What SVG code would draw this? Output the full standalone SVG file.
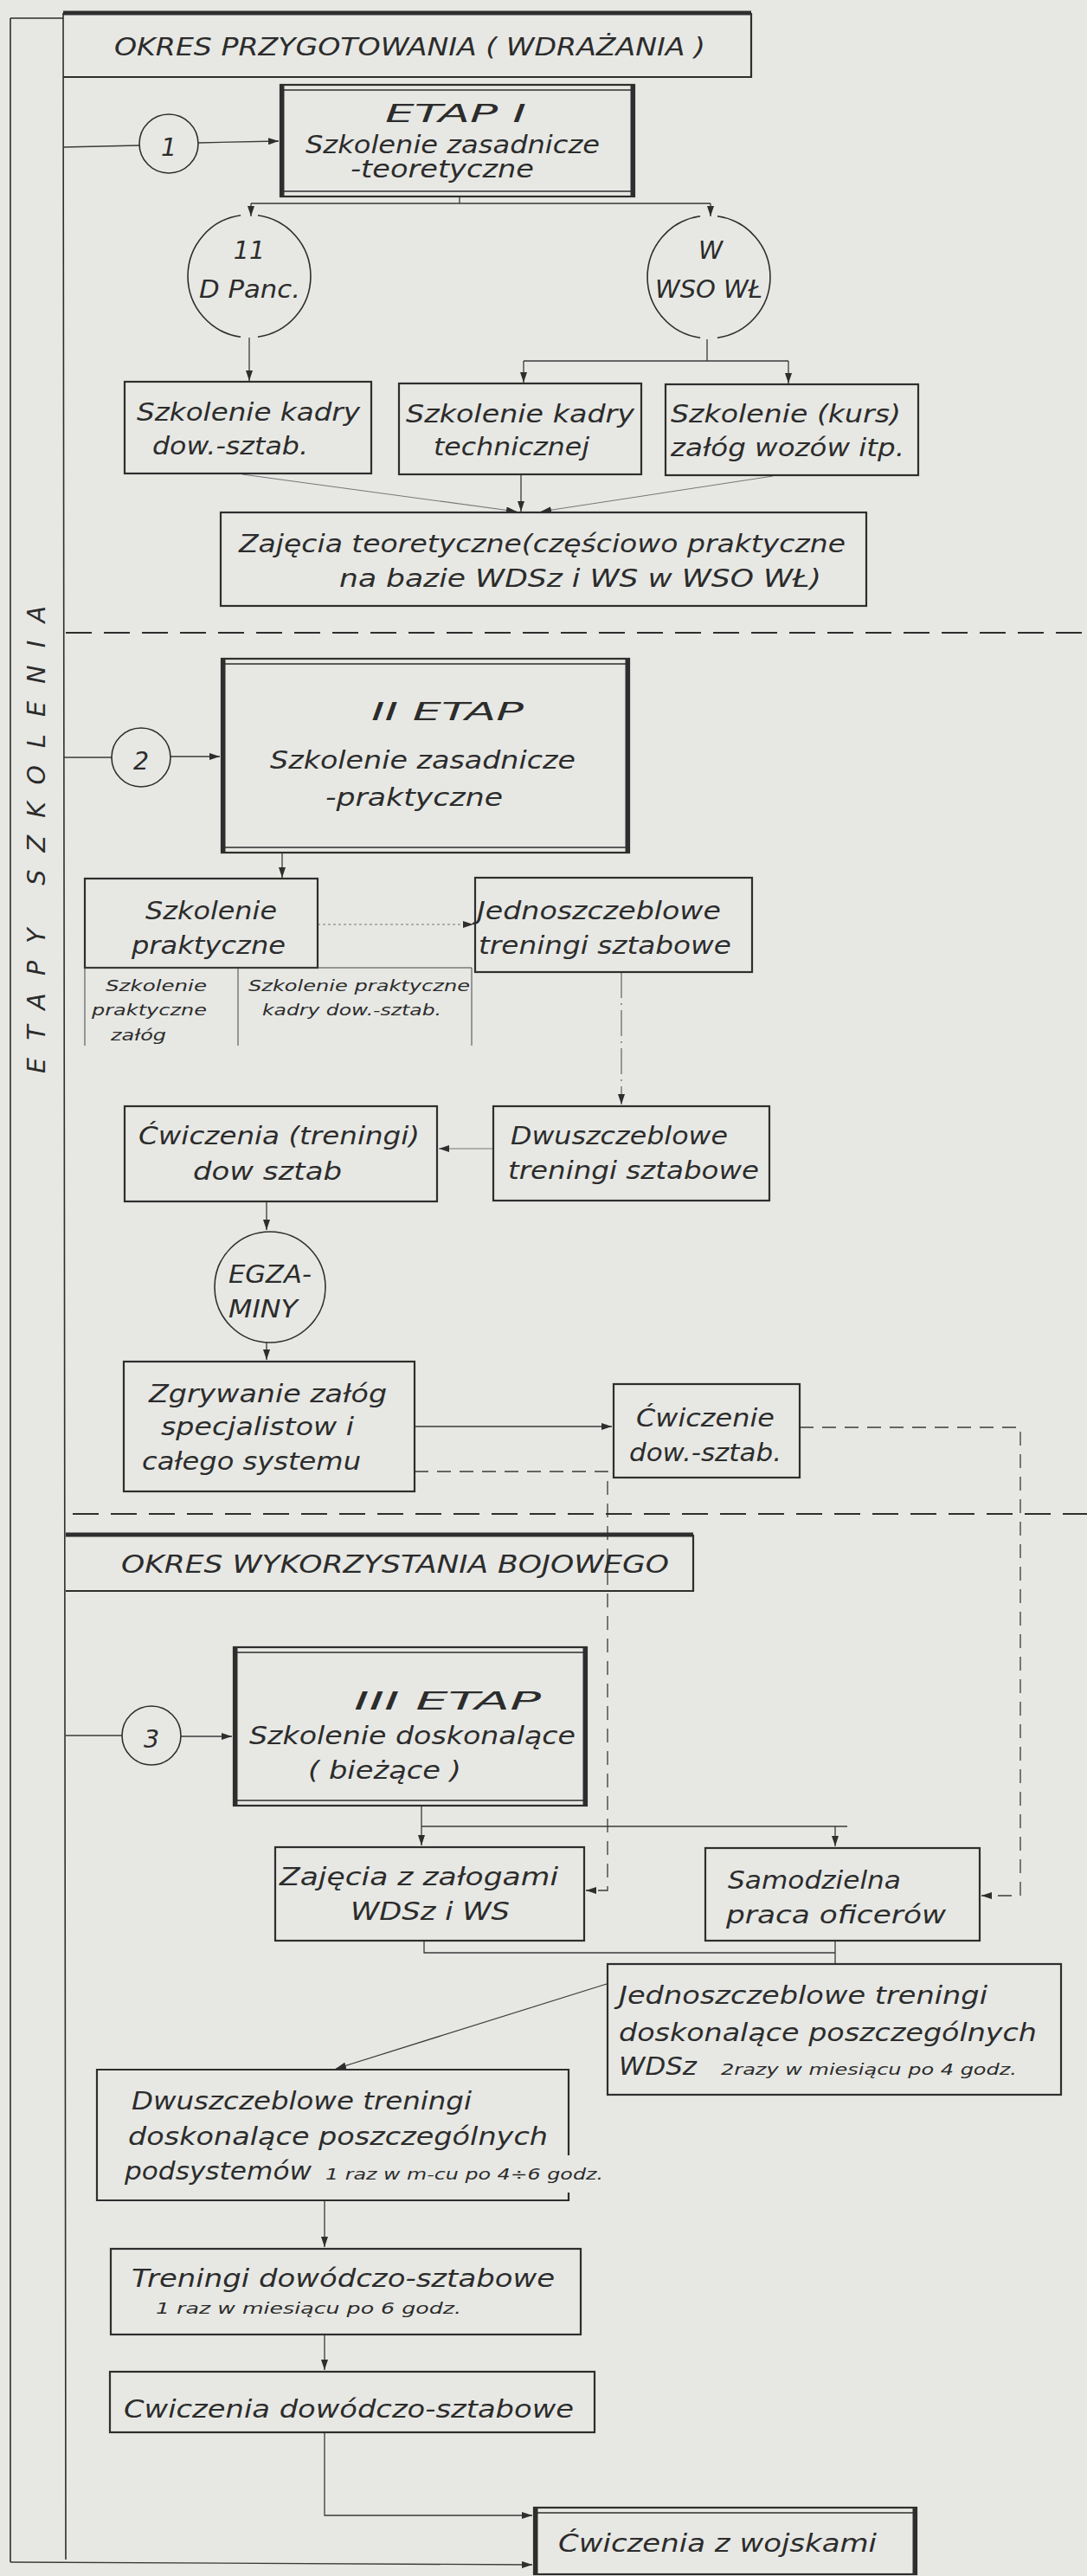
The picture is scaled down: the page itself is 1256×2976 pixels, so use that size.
<svg xmlns="http://www.w3.org/2000/svg" width="1256" height="2976" viewBox="0 0 1256 2976">
<defs>
<style>
.bg{fill:#e7e8e4}
.frame{stroke:#2e2e2e;stroke-width:1.6;fill:none}
.box{fill:none;stroke:#2e2e2e;stroke-width:2.2}
.thick{stroke:#2e2e2e;stroke-width:5;fill:none}
.thin{stroke:#2e2e2e;stroke-width:1.6;fill:none}
.sub{stroke:#444;stroke-width:1;fill:none}
.conn{stroke:#3a3a3a;stroke-width:1.3;fill:none}
.faint{stroke:#777;stroke-width:1.1;fill:none}
.dotted{stroke:#777;stroke-width:1.1;fill:none;stroke-dasharray:3 3}
.dashdot{stroke:#555;stroke-width:1.1;fill:none;stroke-dasharray:30 6 2 6}
.dashc{stroke:#3a3a3a;stroke-width:1.3;fill:none;stroke-dasharray:16 10}
.sep{stroke:#2e2e2e;stroke-width:2.2;fill:none;stroke-dasharray:30 14}
.t{font-family:'DejaVu Sans','Liberation Sans',sans-serif;font-style:italic;fill:#2c2c2c;font-size:28.5px}
.s{font-size:18px}
.h{font-size:28px}
.m{text-anchor:middle}
</style>
<marker id="ah" viewBox="0 0 12 8" refX="12" refY="4" markerWidth="12" markerHeight="8" orient="auto" markerUnits="userSpaceOnUse">
<path d="M0,0 L12,4 L0,8 z" fill="#2e2e2e"/>
</marker>
</defs>
<rect class="bg" x="0" y="0" width="1256" height="2976"/>

<g id="frame">
<path class="frame" d="M12,21 H73 M12,21 V2960 M73,15 L76,2957"/>
<text class="t" font-size="28" transform="translate(52,1240) rotate(-90)" textLength="540" lengthAdjust="spacing">ETAPY SZKOLENIA</text>
</g>

<g id="connectors">
<path class="conn" d="M73,170 L161,168"/>
<path class="conn" d="M229,165 L322,163" marker-end="url(#ah)"/>
<path class="conn" d="M531,227 V235 M290,235 H821"/>
<path class="conn" d="M290,235 V250" marker-end="url(#ah)"/>
<path class="conn" d="M821,235 V250" marker-end="url(#ah)"/>
<path class="conn" d="M288,390 V440" marker-end="url(#ah)"/>
<path class="conn" d="M817,392 V417 M605,417 H911"/>
<path class="conn" d="M605,417 V442" marker-end="url(#ah)"/>
<path class="conn" d="M911,417 V443" marker-end="url(#ah)"/>
<path class="faint" d="M280,548 L597,591" marker-end="url(#ah)"/>
<path class="conn" d="M602,549 V591" marker-end="url(#ah)"/>
<path class="faint" d="M893,550 L625,591" marker-end="url(#ah)"/>
<path class="conn" d="M74,875 H129"/>
<path class="conn" d="M197,874 H254" marker-end="url(#ah)"/>
<path class="conn" d="M326,985 V1014" marker-end="url(#ah)"/>
<path class="dotted" d="M367,1068 H547" marker-end="url(#ah)"/>
<path class="dashdot" d="M718,1123 V1276" marker-end="url(#ah)"/>
<path class="faint" d="M570,1327 H507" marker-end="url(#ah)"/>
<path class="conn" d="M308,1388 V1421" marker-end="url(#ah)"/>
<path class="conn" d="M308,1551 V1571" marker-end="url(#ah)"/>
<path class="conn" d="M479,1648 H707" marker-end="url(#ah)"/>
<path class="dashc" d="M924,1649 H1179 V2190 H1134" marker-end="url(#ah)"/>
<path class="dashc" d="M479,1700 H702 V2184 H677" marker-end="url(#ah)"/>
<path class="conn" d="M76,2005 H141"/>
<path class="conn" d="M209,2006 H268" marker-end="url(#ah)"/>
<path class="conn" d="M487,2086 V2132" marker-end="url(#ah)"/>
<path class="conn" d="M487,2110 H979"/>
<path class="conn" d="M965,2110 V2133" marker-end="url(#ah)"/>
<path class="conn" d="M490,2242 V2256 H965 M965,2242 V2269"/>
<path class="conn" d="M701,2292 L388,2390" marker-end="url(#ah)"/>
<path class="conn" d="M375,2542 V2596" marker-end="url(#ah)"/>
<path class="conn" d="M375,2697 V2738" marker-end="url(#ah)"/>
<path class="conn" d="M375,2810 V2906 H615" marker-end="url(#ah)"/>
<path class="conn" d="M12,2960 L615,2963" marker-end="url(#ah)"/>
<path class="sep" d="M76,731 H1256"/>
<path class="sep" d="M84,1749 H1256"/>
</g>

<g id="header1">
<path class="thick" d="M73,15 H868"/>
<path class="box" d="M868,15 V89 H73"/>
<text class="t h" x="132" y="64" textLength="683" lengthAdjust="spacingAndGlyphs">OKRES  PRZYGOTOWANIA ( WDRAŻANIA )</text>
</g>

<g id="etap1">
<rect class="box" x="324" y="98" width="409" height="129"/>
<path class="thick" d="M326,98 V227 M731,98 V227"/>
<path class="thin" d="M324,104 H733 M324,221 H733"/>
<text class="t" font-size="36" x="445" y="141" textLength="163" lengthAdjust="spacingAndGlyphs">ETAP I</text>
<text class="t" x="353" y="177" textLength="340" lengthAdjust="spacingAndGlyphs">Szkolenie zasadnicze</text>
<text class="t" x="405" y="205" textLength="212" lengthAdjust="spacingAndGlyphs">-teoretyczne</text>
</g>

<g id="c1">
<circle class="thin" cx="195" cy="166" r="34"/>
<text class="t m" font-size="40" x="195" y="180">1</text>
</g>

<g id="c11dpanc">
<path class="thin" d="M297.9,248.7 A71,71 0 0 1 297.9,389.3 M278.1,389.3 A71,71 0 0 1 278.1,248.7"/>
<text class="t m" x="288" y="299">11</text>
<text class="t" x="230" y="344" textLength="117" lengthAdjust="spacingAndGlyphs">D Panc.</text>
</g>

<g id="cwsowl">
<path class="thin" d="M828.9,249.7 A71,71 0 0 1 828.9,390.3 M809.1,390.3 A71,71 0 0 1 809.1,249.7"/>
<text class="t m" x="821" y="299">W</text>
<text class="t" x="757" y="344" textLength="124" lengthAdjust="spacingAndGlyphs">WSO WŁ</text>
</g>

<g id="kadry-dow">
<rect class="box" x="144" y="441" width="285" height="106"/>
<text class="t" x="158" y="486" textLength="258" lengthAdjust="spacingAndGlyphs">Szkolenie kadry</text>
<text class="t" x="176" y="525" textLength="180" lengthAdjust="spacingAndGlyphs">dow.-sztab.</text>
</g>

<g id="kadry-tech">
<rect class="box" x="461" y="443" width="280" height="105"/>
<text class="t" x="469" y="488" textLength="264" lengthAdjust="spacingAndGlyphs">Szkolenie kadry</text>
<text class="t" x="501" y="526" textLength="180" lengthAdjust="spacingAndGlyphs">technicznej</text>
</g>

<g id="kurs">
<rect class="box" x="769" y="444" width="292" height="105"/>
<text class="t" x="775" y="488" textLength="266" lengthAdjust="spacingAndGlyphs">Szkolenie (kurs)</text>
<text class="t" x="775" y="527" textLength="270" lengthAdjust="spacingAndGlyphs">załóg wozów itp.</text>
</g>

<g id="zajecia-teor">
<rect class="box" x="255" y="592" width="746" height="108"/>
<text class="t" x="276" y="638" textLength="701" lengthAdjust="spacingAndGlyphs">Zajęcia teoretyczne(częściowo praktyczne</text>
<text class="t" x="392" y="678" textLength="557" lengthAdjust="spacingAndGlyphs">na bazie WDSz i WS w WSO WŁ)</text>
</g>

<g id="etap2">
<rect class="box" x="256" y="761" width="471" height="224"/>
<path class="thick" d="M258,761 V985 M725,761 V985"/>
<path class="thin" d="M256,767 H727 M256,979 H727"/>
<text class="t" font-size="39" x="429" y="832" textLength="176" lengthAdjust="spacingAndGlyphs">II ETAP</text>
<text class="t" x="312" y="888" textLength="353" lengthAdjust="spacingAndGlyphs">Szkolenie zasadnicze</text>
<text class="t" x="376" y="931" textLength="205" lengthAdjust="spacingAndGlyphs">-praktyczne</text>
</g>

<g id="c2">
<circle class="thin" cx="163" cy="875" r="34"/>
<text class="t m" font-size="40" x="163" y="889">2</text>
</g>

<g id="szk-prakt">
<rect class="box" x="98" y="1015" width="269" height="103"/>
<text class="t" x="168" y="1062" textLength="152" lengthAdjust="spacingAndGlyphs">Szkolenie</text>
<text class="t" x="152" y="1102" textLength="178" lengthAdjust="spacingAndGlyphs">praktyczne</text>
<path class="sub" d="M98,1118 H545 M98,1118 V1208 M275,1118 V1208 M545,1118 V1208"/>
<text class="t s" x="122" y="1145" textLength="117" lengthAdjust="spacingAndGlyphs">Szkolenie</text>
<text class="t s" x="106" y="1173" textLength="133" lengthAdjust="spacingAndGlyphs">praktyczne</text>
<text class="t s" x="128" y="1202" textLength="64" lengthAdjust="spacingAndGlyphs">załóg</text>
<text class="t s" x="287" y="1145" textLength="256" lengthAdjust="spacingAndGlyphs">Szkolenie praktyczne</text>
<text class="t s" x="303" y="1173" textLength="207" lengthAdjust="spacingAndGlyphs">kadry dow.-sztab.</text>
</g>

<g id="jedno-szt">
<rect class="box" x="549" y="1014" width="320" height="109"/>
<text class="t" x="551" y="1062" textLength="282" lengthAdjust="spacingAndGlyphs">Jednoszczeblowe</text>
<text class="t" x="553" y="1102" textLength="292" lengthAdjust="spacingAndGlyphs">treningi sztabowe</text>
</g>

<g id="dwu-szt">
<rect class="box" x="570" y="1278" width="319" height="109"/>
<text class="t" x="590" y="1322" textLength="251" lengthAdjust="spacingAndGlyphs">Dwuszczeblowe</text>
<text class="t" x="587" y="1362" textLength="290" lengthAdjust="spacingAndGlyphs">treningi sztabowe</text>
</g>

<g id="cwiczenia-tren">
<rect class="box" x="144" y="1278" width="361" height="110"/>
<text class="t" x="160" y="1322" textLength="325" lengthAdjust="spacingAndGlyphs">Ćwiczenia (treningi)</text>
<text class="t" x="223" y="1363" textLength="172" lengthAdjust="spacingAndGlyphs">dow sztab</text>
</g>

<g id="egzaminy">
<circle class="thin" cx="312" cy="1487" r="64"/>
<text class="t" x="264" y="1482" textLength="96" lengthAdjust="spacingAndGlyphs">EGZA-</text>
<text class="t" x="264" y="1522" textLength="80" lengthAdjust="spacingAndGlyphs">MINY</text>
</g>

<g id="zgrywanie">
<rect class="box" x="143" y="1573" width="336" height="150"/>
<text class="t" x="172" y="1620" textLength="275" lengthAdjust="spacingAndGlyphs">Zgrywanie załóg</text>
<text class="t" x="186" y="1658" textLength="223" lengthAdjust="spacingAndGlyphs">specjalistow i</text>
<text class="t" x="164" y="1698" textLength="253" lengthAdjust="spacingAndGlyphs">całego systemu</text>
</g>

<g id="cwiczenie-dow">
<rect class="box" x="709" y="1599" width="215" height="108"/>
<text class="t" x="735" y="1648" textLength="160" lengthAdjust="spacingAndGlyphs">Ćwiczenie</text>
<text class="t" x="727" y="1688" textLength="176" lengthAdjust="spacingAndGlyphs">dow.-sztab.</text>
</g>

<g id="header2">
<path class="thick" d="M76,1773 H801"/>
<path class="box" d="M801,1773 V1838 H76"/>
<text class="t h" font-size="29" x="140" y="1817" textLength="633" lengthAdjust="spacingAndGlyphs">OKRES  WYKORZYSTANIA  BOJOWEGO</text>
</g>

<g id="etap3">
<rect class="box" x="270" y="1903" width="408" height="183"/>
<path class="thick" d="M272,1903 V2086 M676,1903 V2086"/>
<path class="thin" d="M270,1909 H678 M270,2080 H678"/>
<text class="t" font-size="35" x="409" y="1975" textLength="216" lengthAdjust="spacingAndGlyphs">III ETAP</text>
<text class="t" x="288" y="2015" textLength="377" lengthAdjust="spacingAndGlyphs">Szkolenie doskonalące</text>
<text class="t" x="356" y="2055" textLength="177" lengthAdjust="spacingAndGlyphs">( bieżące )</text>
</g>

<g id="c3">
<circle class="thin" cx="175" cy="2005" r="34"/>
<text class="t m" font-size="40" x="175" y="2019">3</text>
</g>

<g id="zajecia-zal">
<rect class="box" x="318" y="2134" width="357" height="108"/>
<text class="t" x="323" y="2178" textLength="322" lengthAdjust="spacingAndGlyphs">Zajęcia z załogami</text>
<text class="t" x="405" y="2218" textLength="184" lengthAdjust="spacingAndGlyphs">WDSz i WS</text>
</g>

<g id="samodzielna">
<rect class="box" x="815" y="2135" width="317" height="107"/>
<text class="t" x="841" y="2182" textLength="200" lengthAdjust="spacingAndGlyphs">Samodzielna</text>
<text class="t" x="839" y="2222" textLength="254" lengthAdjust="spacingAndGlyphs">praca oficerów</text>
</g>

<g id="jedno-dosk">
<rect class="box" x="702" y="2269" width="524" height="151"/>
<text class="t" x="715" y="2315" textLength="426" lengthAdjust="spacingAndGlyphs">Jednoszczeblowe  treningi</text>
<text class="t" x="715" y="2358" textLength="483" lengthAdjust="spacingAndGlyphs">doskonalące  poszczególnych</text>
<text class="t" x="715" y="2397" textLength="90" lengthAdjust="spacingAndGlyphs">WDSz</text>
<text class="t s" x="833" y="2397" textLength="342" lengthAdjust="spacingAndGlyphs">2razy w miesiącu po 4 godz.</text>
</g>

<g id="dwu-dosk">
<path class="box" d="M657,2490 V2391 H112 V2542 H657 V2533"/>
<text class="t" x="152" y="2437" textLength="393" lengthAdjust="spacingAndGlyphs">Dwuszczeblowe  treningi</text>
<text class="t" x="148" y="2478" textLength="485" lengthAdjust="spacingAndGlyphs">doskonalące  poszczególnych</text>
<text class="t" x="144" y="2518" textLength="216" lengthAdjust="spacingAndGlyphs">podsystemów</text>
<text class="t s" x="376" y="2518" textLength="321" lengthAdjust="spacingAndGlyphs">1 raz w m-cu po 4÷6 godz.</text>
</g>

<g id="treningi-dow">
<rect class="box" x="128" y="2598" width="543" height="99"/>
<text class="t" x="152" y="2642" textLength="489" lengthAdjust="spacingAndGlyphs">Treningi  dowódczo-sztabowe</text>
<text class="t s" x="180" y="2673" textLength="353" lengthAdjust="spacingAndGlyphs">1 raz w miesiącu po 6 godz.</text>
</g>

<g id="cwiczenia-dow">
<rect class="box" x="127" y="2740" width="560" height="70"/>
<text class="t" x="143" y="2793" textLength="520" lengthAdjust="spacingAndGlyphs">Cwiczenia  dowódczo-sztabowe</text>
</g>

<g id="cwiczenia-woj">
<rect class="box" x="617" y="2897" width="442" height="77"/>
<path class="thick" d="M619,2897 V2974 M1057,2897 V2974"/>
<path class="thin" d="M617,2903 H1059"/>
<text class="t" x="645" y="2948" textLength="368" lengthAdjust="spacingAndGlyphs">Ćwiczenia z wojskami</text>
</g>
</svg>
